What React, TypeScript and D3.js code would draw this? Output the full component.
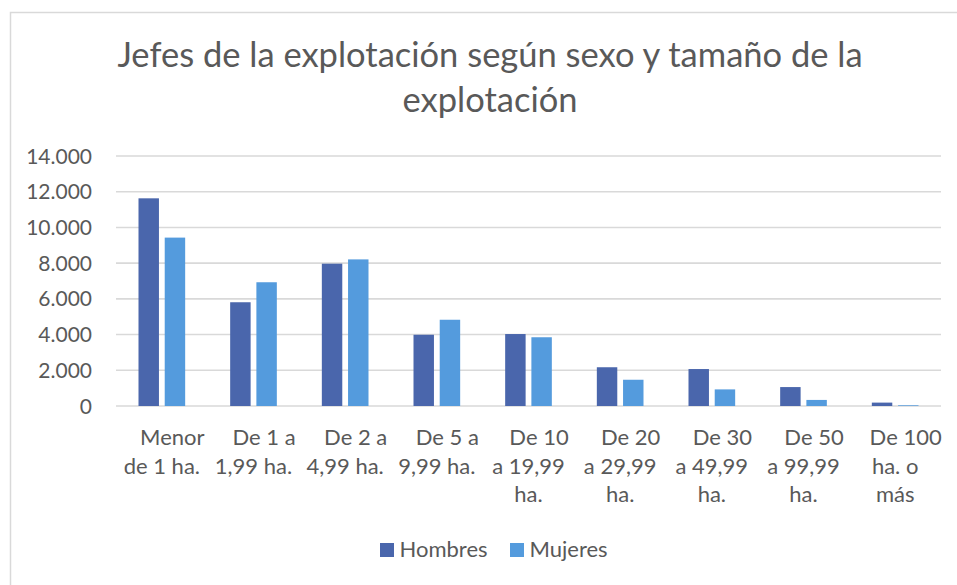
import React from "react";
import * as d3 from "d3";

const categories = [
  ["Menor", "de 1 ha."],
  ["De 1 a", "1,99 ha."],
  ["De 2 a", "4,99 ha."],
  ["De 5 a", "9,99 ha."],
  ["De 10", "a 19,99", "ha."],
  ["De 20", "a 29,99", "ha."],
  ["De 30", "a 49,99", "ha."],
  ["De 50", "a 99,99", "ha."],
  ["De 100", "ha. o", "más"],
];
const seriesNames = ["Hombres", "Mujeres"];
const hombres = [11630, 5810, 7970, 3990, 4030, 2170, 2070, 1060, 190];
const mujeres = [9430, 6930, 8210, 4830, 3850, 1470, 930, 340, 40];
const yTicks = [0, 2000, 4000, 6000, 8000, 10000, 12000, 14000];
const colors = ["#4A66AC", "#549BDD"];
const titleLines = ["Jefes de la explotación según sexo y tamaño de la", "explotación"];

const W = 957;
const H = 585;
const FONT = "Lato, 'Open Sans', sans-serif";
const TXT = "#595959";

export default function App() {
  const keys = categories.map((c) => c.join(" "));
  const x0 = d3.scaleBand<string>().domain(keys).range([116, 941]).paddingInner(0).paddingOuter(0);
  const groupPad = 22.5;
  const x1 = d3
    .scaleBand<string>()
    .domain(seriesNames)
    .range([groupPad, x0.bandwidth() - groupPad])
    .paddingInner(0.22)
    .paddingOuter(0);
  const y = d3.scaleLinear().domain([0, 14000]).range([406, 156]);
  const loc = d3.formatLocale({ thousands: ".", decimal: ",", grouping: [3], currency: ["", ""] });
  const fmt = loc.format(",");
  const data = [hombres, mujeres];

  return (
    <div style={{ position: "absolute", left: 0, top: 0 }}>
      <svg width={W} height={H} style={{ display: "block", fontFamily: FONT }}>
        <rect x={0} y={0} width={W} height={H} fill="#fff" />
        <rect x={10.5} y={12.5} width={980} height={620} fill="#fff" stroke="#D9D9D9" strokeWidth={1.5} />
        {titleLines.map((t, i) => (
          <text key={i} x={490} y={66.5 + i * 45.3} textAnchor="middle" fontSize={34.5} fill={TXT}>
            {t}
          </text>
        ))}
        {yTicks.map((t) => (
          <g key={t}>
            <line x1={116} x2={941} y1={y(t)} y2={y(t)} stroke="#D9D9D9" strokeWidth={1.6} />
            <text x={92} y={y(t)} dy="0.36em" textAnchor="end" fontSize={21} fill={TXT}>
              {fmt(t)}
            </text>
          </g>
        ))}
        {keys.map((k, ci) => (
          <g key={k} transform={`translate(${x0(k)},0)`}>
            {seriesNames.map((s, si) => {
              const v = data[si][ci];
              return (
                <rect
                  key={s}
                  x={x1(s)}
                  y={y(v)}
                  width={x1.bandwidth()}
                  height={y(0) - y(v)}
                  fill={colors[si]}
                />
              );
            })}
            {categories[ci].map((line, li) => (
              <text
                key={li}
                x={x0.bandwidth() / 2 + (li === 0 ? 10.5 : 0)}
                y={445 + li * 28.5}
                textAnchor="middle"
                fontSize={22}
                fill={TXT}
              >
                {line}
              </text>
            ))}
          </g>
        ))}
        {seriesNames.map((s, i) => {
          const lx = [380, 510][i];
          return (
            <g key={s}>
              <rect x={lx} y={543} width={14} height={14} fill={colors[i]} />
              <text x={lx + 19.5} y={556.5} fontSize={22} fill={TXT}>
                {s}
              </text>
            </g>
          );
        })}
      </svg>
    </div>
  );
}
